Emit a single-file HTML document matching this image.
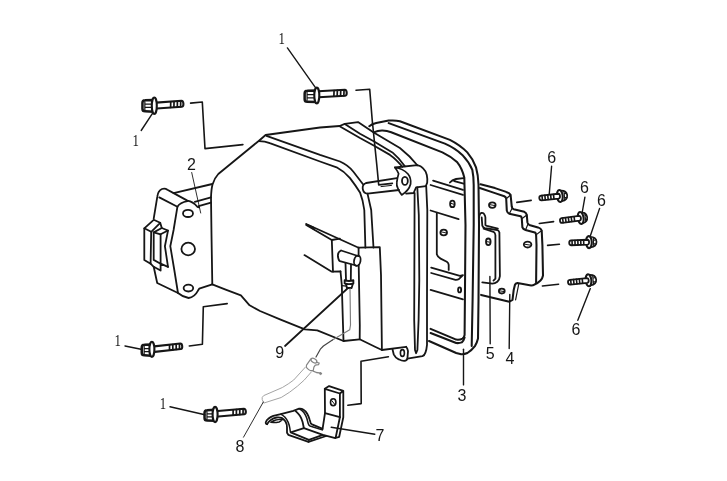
<!DOCTYPE html>
<html><head><meta charset="utf-8"><title>diagram</title>
<style>
html,body{margin:0;padding:0;background:#fff;}
body{width:727px;height:481px;overflow:hidden;font-family:"Liberation Sans",sans-serif;}
svg{display:block;}
</style></head><body>
<svg width="727" height="481" viewBox="0 0 727 481" stroke-linecap="round" stroke-linejoin="round" style="filter:grayscale(1) blur(0.45px)">
<rect x="0" y="0" width="727" height="481" fill="#ffffff"/>
<path d="M212.3,284.3 L211.5,235 L211,197.4 Q211.3,189 212.5,184.5 Q214.5,178 218.3,174 L259,140.7 L265.6,135 L320,127.5 L339.6,126 L344.8,123.8 L358,122.1 L373.7,132.4 L399.9,148 Q410,156 417.3,165.2" stroke="#161616" stroke-width="1.8" fill="none" />
<path d="M344.8,124 L360,133.7 L373.7,141.2 L392.4,152.4 Q399,158 404.9,166.2" stroke="#161616" stroke-width="1.8" fill="none" />
<path d="M339.6,126.2 L360,138 L373.7,145.5 L390,154.9 Q396,159 402.4,166.8" stroke="#161616" stroke-width="1.8" fill="none" />
<path d="M266.5,135.8 L320,154.9 L340,161.5 Q348,165 353.2,171.5 L363,184.3" stroke="#161616" stroke-width="1.8" fill="none" />
<path d="M367.5,193.6 L371.2,210 L371.8,220 L373.5,247.5" stroke="#161616" stroke-width="1.8" fill="none" />
<path d="M259,141.2 Q265,141.3 269.8,143.2 L320,161.5 L336.6,167.3 Q344.5,171.5 350,178.1 Q356,186 360,192.4 Q363,200 364.3,210 L365.4,247.7" stroke="#161616" stroke-width="1.8" fill="none" />
<path d="M212.3,284.3 L225,289.3 L240.9,295.4 L249.6,305.3 L260,311 L280,319.3 L304.9,329.3 L317.3,330.3 L343.5,341 L359.7,339.3 L375,346.8 L381.9,350 L406.2,346.8" stroke="#161616" stroke-width="1.8" fill="none" />
<path d="M340.5,271.5 L341.8,285 L343,325 L343.5,341" stroke="#161616" stroke-width="1.8" fill="none" />
<path d="M358.6,247.7 L358.6,256 M358.7,265 L359.8,325 L359.7,339.3" stroke="#161616" stroke-width="1.8" fill="none" />
<path d="M358.6,247.7 L379.8,247.2 L381,275 L381.6,325 L381.9,350" stroke="#161616" stroke-width="1.8" fill="none" />
<path d="M306.2,224 L358.6,247.7" stroke="#161616" stroke-width="1.8" fill="none" />
<path d="M306.2,225 L331.8,240 L339.9,238.7" stroke="#161616" stroke-width="1.8" fill="none" />
<path d="M306.2,224 L314,227.3 L314.5,229.8 Z" stroke="#161616" stroke-width="0.8" fill="#161616" />
<path d="M331.8,240 L333,271.7" stroke="#161616" stroke-width="1.8" fill="none" />
<path d="M304.4,255.1 L331.8,271.7 L340.5,271.5" stroke="#161616" stroke-width="1.8" fill="none" />
<path d="M341.1,250.5 L358,256 M339.9,261.1 L356.1,265.5 M341.1,250.5 Q337.3,252 338,257 Q338.6,260.6 339.9,261.1" stroke="#161616" stroke-width="1.8" fill="none" />
<ellipse cx="357.3" cy="260.7" rx="3.2" ry="5.2" stroke="#161616" stroke-width="1.8" fill="none" transform="rotate(12 357.3 260.7)"/>
<path d="M345.5,263 L346,280 M351,264.5 L350.8,280" stroke="#161616" stroke-width="1.8" fill="none" />
<path d="M344.6,280.2 Q349,281.8 353.4,280.2 L353.4,283.4 Q349,285 344.6,283.4 Z" stroke="#161616" stroke-width="1.8" fill="none" />
<path d="M346,284 L346.9,288 L351.6,288 L352.8,284" stroke="#161616" stroke-width="1.8" fill="none" />
<path d="M341.8,285.6 L346.7,286.2" stroke="#161616" stroke-width="1.2" fill="none" />
<path d="M350,288.7 L350.5,325 L349.7,329.8 L332.4,340" stroke="#7c7c7c" stroke-width="1.15" fill="none" />
<path d="M332.4,340 L323.4,346 L320.6,348.8 L316,357" stroke="#444" stroke-width="1.2" fill="none" />
<path d="M366.2,183 L396.8,178.2 M367.5,193.6 L399,190 M366.2,183 Q362.2,184.5 362.7,188.6 Q363.3,193.4 367.5,193.6" stroke="#161616" stroke-width="1.8" fill="none" />
<path d="M394.9,167.5 Q403,168.5 408,174 Q411.3,178 410.6,184 Q409,190.5 401.7,194.9 Q398.8,191.5 398,188.6 Q396.3,185.5 396.8,182.4 Q397.3,178 398.6,173.7 Q397,170 394.9,167.5 Z" stroke="#161616" stroke-width="1.7" fill="none" />
<ellipse cx="404.9" cy="180.9" rx="2.9" ry="4.0" stroke="#161616" stroke-width="1.8" fill="none"/>
<path d="M394.9,167.5 L417.3,165.2 Q421,166 422.9,168.1 Q426,171 426.8,175 Q427.6,179 427.2,182.6 L426,185.8" stroke="#161616" stroke-width="1.8" fill="none" />
<path d="M406.1,193.6 L413.6,193 L416.1,187.4 L426,186.2" stroke="#161616" stroke-width="1.8" fill="none" />
<path d="M414.6,193 L414.2,320 L415,350 L416.1,353.2 L417.4,350 L418.6,320 L419.3,280 L418.8,215 L417.3,187.4" stroke="#161616" stroke-width="1.8" fill="none" />
<path d="M426.2,186.2 L427.3,210 L427,300 L427,344.9 Q426.5,350 425.5,352.4 Q424.5,355.5 422.4,356.2 L407.4,358.6" stroke="#161616" stroke-width="1.8" fill="none" />
<path d="M392.5,349.3 L393.7,354.3 Q395.5,358 398.7,359.3 Q402,361 404.3,360.9 Q407,360.5 407.4,358.6 L408,351.2 Q407.5,348 406.2,346.8" stroke="#161616" stroke-width="1.8" fill="none" />
<ellipse cx="402.4" cy="353" rx="2.0" ry="3.4" stroke="#161616" stroke-width="1.6" fill="none"/>
<path d="M173.6,193.1 L212.3,184" stroke="#161616" stroke-width="1.8" fill="none" />
<path d="M194.8,201.8 L211,197.4 M198.6,206.2 L211,202.7" stroke="#161616" stroke-width="1.8" fill="none" />
<path d="M153.7,218.6 L157.4,196.2 Q158,190.8 162,189 Q165,188 167.4,189.7 L173.6,193.1 L187.4,200.6 Q193,201.5 197.3,206.8 L199.2,207.4" stroke="#161616" stroke-width="1.8" fill="none" />
<path d="M159.3,197.4 L177.4,206.8 Q180,202.5 187.4,201.2" stroke="#161616" stroke-width="1.8" fill="none" />
<path d="M177.4,206.8 L173.6,230 L170.3,246.2 L174.3,270 L178,293" stroke="#161616" stroke-width="1.8" fill="none" />
<path d="M168,230.6 L164.9,246.2 L168,266.8" stroke="#161616" stroke-width="1.8" fill="none" />
<ellipse cx="188" cy="213.4" rx="5.0" ry="3.6" stroke="#161616" stroke-width="1.8" fill="none"/>
<ellipse cx="188.2" cy="249" rx="6.8" ry="6.3" stroke="#161616" stroke-width="1.8" fill="none"/>
<ellipse cx="188.4" cy="288.1" rx="4.8" ry="3.4" stroke="#161616" stroke-width="1.8" fill="none"/>
<path d="M153.7,266.8 L157.2,283 L178,293 Q182.4,296.8 188.6,298 Q194.5,297.2 198,290.6 L199.2,288.7 L212.3,284.3" stroke="#161616" stroke-width="1.8" fill="none" />
<path d="M144.3,228.3 L153.7,219.8 L160.2,222.8 L151.2,231.8 Z" stroke="#161616" stroke-width="1.8" fill="none" />
<path d="M144.3,228.3 L144.3,259.9 L150.6,263.7 L151.2,231.8" stroke="#161616" stroke-width="1.8" fill="none" />
<path d="M153.7,232.4 L161.8,228 L168,230.5 L160.6,234.3 Z" stroke="#161616" stroke-width="1.8" fill="none" />
<path d="M153.7,232.4 L153.7,259.9 L160.6,263.7 L160.6,234.3" stroke="#161616" stroke-width="1.8" fill="none" />
<path d="M160.2,222.8 L161.8,228" stroke="#161616" stroke-width="1.8" fill="none" />
<path d="M150.6,263.7 L153.7,266.8 L160.6,270.5 L160.6,263.7 L168,266.8" stroke="#161616" stroke-width="1.8" fill="none" />
<path d="M369.3,126.2 Q372,124 376.2,123.1 L388.7,120.6 Q395,120 399.9,121.2 L449.9,139.9 Q460,145 467.3,152.4 Q473,159 476,167.3 Q478.2,175 478.5,184.8 L479,225 L478.5,300 L478,338.6 Q477,343 474.9,346.1 Q472,350 467.4,353 Q464,354.5 461.2,354.2 L456.2,353 L429,341" stroke="#161616" stroke-width="2.05" fill="none" />
<path d="M388.7,123.1 L444.9,143.6 Q455,148 462.3,154.9 Q469,162 472.3,169.8 Q473.6,176 473.7,185 L473.7,225 L472.6,300 L471.7,346.1" stroke="#161616" stroke-width="2.05" fill="none" />
<path d="M373.7,132.4 Q378,130.5 382.4,130.6 Q387,130.8 391.2,132.2 L442.4,152.4 Q451,156.5 457.3,162.3 Q462,168 464.3,177.5 L465.5,225 L464.9,300 L464.6,334.9 Q464,337.5 462.4,338.6 Q460,340 456.2,339.6 L430.6,328.9" stroke="#161616" stroke-width="2.05" fill="none" />
<path d="M430.6,333 L456.2,343 Q459,343.4 461.8,342.4 Q463.6,341 464.6,337.4" stroke="#161616" stroke-width="2.05" fill="none" />
<path d="M433.1,180.6 L463,189.9 M430.6,185 L463,194.9" stroke="#161616" stroke-width="1.8" fill="none" />
<path d="M449.9,182.5 Q452,179.8 456,179 L463.6,178.1 M454.3,181.2 L463.6,183.7" stroke="#161616" stroke-width="1.8" fill="none" />
<ellipse cx="452.4" cy="203.9" rx="2.3" ry="3.3" stroke="#161616" stroke-width="1.8" fill="none"/>
<path d="M450.6,203.2 L454.2,204.4" stroke="#161616" stroke-width="1" fill="none" />
<path d="M430.6,210.5 L458.6,219.2" stroke="#161616" stroke-width="1.8" fill="none" />
<path d="M436.8,213 L436.8,254.3 Q437.5,257 440.6,258.6 L446.8,261.8 Q448.6,263 448.7,264.9 L448.7,269.9" stroke="#161616" stroke-width="1.8" fill="none" />
<ellipse cx="443.7" cy="232.5" rx="3.3" ry="2.9" stroke="#161616" stroke-width="1.8" fill="none"/>
<path d="M441,231.8 L446.4,233" stroke="#161616" stroke-width="1" fill="none" />
<path d="M431.2,267.6 L459.9,275.8 L463,275.2 M431.2,273 L455.5,279.9 Q457.5,280 458.6,279.3 L463,275.2" stroke="#161616" stroke-width="1.8" fill="none" />
<path d="M430.6,289.9 L463,299.3" stroke="#161616" stroke-width="1.8" fill="none" />
<ellipse cx="459.6" cy="289.9" rx="1.5" ry="2.5" stroke="#161616" stroke-width="1.9" fill="none"/>
<path d="M479,217.4 Q479.8,213.5 481.1,213 Q483.5,212.5 484.2,214.2 Q485.4,216 485.4,217.4 L485.4,225 Q486,226 487.9,226.2 L497.9,228.7" stroke="#161616" stroke-width="1.8" fill="none" />
<path d="M481.7,217.5 L482.3,225.6 Q483,227.6 484.8,228.1 L497.3,230 Q499,230.7 499.4,232.5 L499.9,276.2 Q499.5,280 497.3,281.8 Q495,283.6 492.3,283.7 L482.3,282.4" stroke="#161616" stroke-width="1.8" fill="none" />
<path d="M483.6,228.7 L493.5,231.8 Q495.2,233 495.4,235 L495.4,278.7 L493.5,280.6" stroke="#161616" stroke-width="1.8" fill="none" />
<ellipse cx="488.3" cy="241.8" rx="2.3" ry="3.3" stroke="#161616" stroke-width="1.8" fill="none"/>
<path d="M486.6,241.6 L490,242.2" stroke="#161616" stroke-width="1" fill="none" />
<path d="M480.5,184.3 L495,188.1 L506.2,191.9 Q509.8,193 510.6,195 L511.8,206.8 Q512.2,208.8 513.7,209.3 L524.3,211.8 Q526.3,212.8 526.8,214.9 L527.4,222.4 Q527.8,224.2 529.3,224.9 L538,227.4 Q541,228.4 541.7,230.5 L542.4,245 L543,275.5 Q542.5,278.5 540.5,280.5 Q538,283 534.9,284.3 Q533,285.5 531.2,285.5 L517.4,283 Q515.5,283.3 514.9,284.9 L513.7,289.9 L512.5,299.9 L509.3,301.7 L481.1,294.9" stroke="#161616" stroke-width="2.05" fill="none" />
<path d="M479.8,188 L495,193.1 L504.3,196.2 Q506,197 506.2,198.7 L506.8,210.6 Q507.3,213 509.3,213.7 L520.6,216.2 Q521.7,217 521.8,218.7 L522.4,227.4 Q523,229.2 525.5,229.9 L534.9,232.4 Q536,233.2 536.1,234.9 L536.5,245 L536.1,282.4" stroke="#161616" stroke-width="2.05" fill="none" />
<path d="M506.2,198.7 L510.6,195 M509.3,213.7 L512,208.5 M521.8,218.7 L526.8,214.9 M525.5,229.9 L528,224 M536.1,234.9 L541.7,230.5" stroke="#161616" stroke-width="1.2" fill="none" />
<path d="M518.7,284.3 L515.6,299.9" stroke="#161616" stroke-width="1.2" fill="none" />
<ellipse cx="492.3" cy="205.1" rx="3.3" ry="2.8" stroke="#161616" stroke-width="1.8" fill="none"/>
<path d="M489.8,204.6 L494.8,205.6" stroke="#161616" stroke-width="1" fill="none" />
<ellipse cx="527.6" cy="244.6" rx="3.8" ry="2.9" stroke="#161616" stroke-width="1.8" fill="none"/>
<path d="M524.6,244.2 L530.6,245.2" stroke="#161616" stroke-width="1" fill="none" />
<ellipse cx="501.8" cy="291.1" rx="2.9" ry="2.4" stroke="#161616" stroke-width="1.8" fill="none"/>
<path d="M499.6,290.8 L504,291.6" stroke="#161616" stroke-width="1" fill="none" />
<path d="M324.8,388.8 L339.9,393.5 L339.9,417.2 L325,413.1 Z" stroke="#161616" stroke-width="1.8" fill="none" />
<path d="M324.8,388.8 L329.1,386.1 L343.3,390.8 L339.9,393.5 M343.3,390.8 L343.3,417.2 L339.2,436.8 L335.6,438 L339.9,417.2" stroke="#161616" stroke-width="1.8" fill="none" />
<ellipse cx="333.2" cy="402.3" rx="2.7" ry="3.5" stroke="#161616" stroke-width="1.6" fill="none"/>
<path d="M331.8,400.6 L334.6,404.2" stroke="#161616" stroke-width="1" fill="none" />
<path d="M325,413.1 L322.5,429.4" stroke="#161616" stroke-width="1.8" fill="none" />
<path d="M267.1,424.2 Q265.4,423.8 265.8,422.2 Q266.5,420 268.3,418.7 Q270.5,416.8 273.3,415.8 L280.8,414.1 L293.3,410.8 L299.1,408.7 Q301.5,408.4 303.2,409.6 Q305.8,411.3 307.2,413.7 Q308.8,416.5 309.6,419.5 L310.6,422.8 Q311,423.8 312,424.3 L322.1,428.6" stroke="#161616" stroke-width="1.8" fill="none" />
<path d="M299.1,408.7 Q302,410.3 303.9,412.5 Q305.6,415 306.8,418.3 L308.2,423.5 Q308.6,425.3 310,426 L322.1,429.9 L322.5,428.6" stroke="#161616" stroke-width="1.5" fill="none" />
<path d="M295.7,411.2 Q298,413.3 299.9,415.8 Q301.5,418.3 302.6,422 L303.9,428.2" stroke="#161616" stroke-width="1.8" fill="none" />
<path d="M267.1,424.2 Q268.5,421.5 270.8,420 Q273.5,418 276.6,417.5 Q279.5,417.2 281.6,417.9 Q284,419.2 285.5,421.5 Q287,424 287,427.4 L287,432.7 L288.3,434.8 L308.5,441.8 L326.2,436" stroke="#161616" stroke-width="1.8" fill="none" />
<path d="M280.8,414.1 Q283,415.3 284.8,417 Q287,419.5 288.2,422.4 Q289.3,425 289.8,428 L290.3,431.5 L290.7,432.3" stroke="#161616" stroke-width="1.5" fill="none" />
<path d="M270.8,422.4 Q273,420.8 275.8,420 Q279,419.2 282.4,419.5 Q281,421.2 279.1,422 Q275,422.8 270.8,422.4 Z" stroke="#161616" stroke-width="1.4" fill="none" />
<path d="M290.7,432.3 L303.9,428.2 L322.9,434.8 L308.9,439.8 Z M308.9,439.8 L308.5,441.8 M322.9,434.8 L335.3,438.1" stroke="#161616" stroke-width="1.8" fill="none" />
<path d="M305.3,367.2 L293.7,380 Q288.5,384 282.4,387.5 L263.7,395.6 Q261.5,397.2 262.2,399.5 L263.7,403.1 L281.2,397.5 Q290,392.5 297.4,386.2 L304.3,380 L311.3,372" stroke="#a4a4a4" stroke-width="1.0" fill="none" />
<ellipse cx="313.9" cy="360.6" rx="3.2" ry="1.9" stroke="#858585" stroke-width="1.3" fill="none" transform="rotate(32 313.9 360.6)"/>
<path d="M310.7,359.1 L306.5,365.1 Q306,366.8 306.8,367.9 Q308.5,370 310.7,370.7 L313.2,370.7 L313.9,367.2 L315.3,365.1 L318.5,364.7 L319.2,363 L316.7,362.3" stroke="#858585" stroke-width="1.2" fill="none" />
<path d="M313.2,371.1 L316.4,372.5 L320.6,373.2" stroke="#858585" stroke-width="1.3" fill="none" />
<ellipse cx="320.6" cy="373.6" rx="1.0" ry="1.0" stroke="#858585" stroke-width="1" fill="#858585"/>
<path d="M190.6,103.1 L202.3,102 L205,148.6 L242.9,144.6" stroke="#161616" stroke-width="1.6" fill="none" />
<path d="M356,90.3 L369.7,89.3 L372.2,120 L376.8,165 L378.7,184.9 L392.4,183.4" stroke="#161616" stroke-width="1.6" fill="none" />
<path d="M381,186.6 L391.5,185.4" stroke="#161616" stroke-width="1.0" fill="none" />
<path d="M227.2,303.6 L203.3,306.8 L202.4,344.2 L189.3,346" stroke="#161616" stroke-width="1.6" fill="none" />
<path d="M388.4,356.8 L361,361.3 L361.2,403.6 L347.9,405.3" stroke="#161616" stroke-width="1.6" fill="none" />
<path d="M516.8,202.4 L531.2,200.4" stroke="#161616" stroke-width="1.6" fill="none" />
<path d="M539.3,223.5 L553.6,221.6" stroke="#161616" stroke-width="1.6" fill="none" />
<path d="M547.6,245.4 L559.4,244.3" stroke="#161616" stroke-width="1.6" fill="none" />
<path d="M542.4,286 L558.6,284.2" stroke="#161616" stroke-width="1.6" fill="none" />
<path d="M152.5,113.3 L141.2,130.5" stroke="#161616" stroke-width="1.4" fill="none" />
<path d="M287.4,47.9 L315.3,87.3" stroke="#161616" stroke-width="1.4" fill="none" />
<path d="M125,346 L141,349.2" stroke="#161616" stroke-width="1.4" fill="none" />
<path d="M170,406.8 L204.9,414.8" stroke="#161616" stroke-width="1.4" fill="none" />
<path d="M191.7,172.5 L200.7,213" stroke="#161616" stroke-width="0.9" fill="none" />
<path d="M348,288 L285,346" stroke="#161616" stroke-width="1.7" fill="none" />
<path d="M263.3,402 L243.5,437.2" stroke="#161616" stroke-width="0.9" fill="none" />
<path d="M331.2,427.3 L374.8,434.2" stroke="#161616" stroke-width="1.4" fill="none" />
<path d="M463.5,349.3 L463.5,384.9" stroke="#161616" stroke-width="1.4" fill="none" />
<path d="M489.9,276.5 L490.2,343.8" stroke="#161616" stroke-width="1.4" fill="none" />
<path d="M509.8,294.5 L509.2,348.6" stroke="#161616" stroke-width="1.4" fill="none" />
<path d="M551.6,166.2 L549.2,194.5" stroke="#161616" stroke-width="1.4" fill="none" />
<path d="M584.9,197.1 L582.3,212" stroke="#161616" stroke-width="1.4" fill="none" />
<path d="M599.6,208.4 L590.3,236" stroke="#161616" stroke-width="1.4" fill="none" />
<path d="M590.3,288.6 L577.8,320.3" stroke="#161616" stroke-width="1.4" fill="none" />
<path d="M145.04999999999998,100.25 Q142.45,100.25 142.45,102.85 L142.45,108.75000000000001 Q142.45,111.35000000000001 145.04999999999998,111.35000000000001 L153.70000000000002,111.65 L153.70000000000002,99.95 Z" stroke="#161616" stroke-width="2.5" fill="none"/><path d="M144.85,101.65 L144.85,109.95 M144.85,104.15 L152.50000000000003,104.15 M144.85,107.45 L152.50000000000003,107.45 M152.10000000000002,100.85 L152.10000000000002,110.75000000000001" stroke="#161616" stroke-width="1.2" fill="none"/><g transform="translate(157.4 105.5) rotate(-4.04)"><path d="M-1,-3.0 L24.36701689100966,-3.0 Q26.06701689100966,-2.9 26.06701689100966,0 Q26.06701689100966,2.9 24.36701689100966,3.0 L-1,3.0" stroke="#161616" stroke-width="2.1" fill="none"/><path d="M23.56701689100966,-2.8 L23.06701689100966,2.8 M20.26701689100966,-2.8 L19.76701689100966,2.8 M16.867016891009662,-2.8 L16.367016891009662,2.8 M13.56701689100966,-2.8 L13.06701689100966,2.8" stroke="#161616" stroke-width="1.7" fill="none"/></g><ellipse cx="154.3" cy="105.7" rx="2.5" ry="8.200000000000001" stroke="#161616" stroke-width="2.1" fill="#fff"/>
<path d="M307.25,90.85 Q304.65,90.85 304.65,93.44999999999999 L304.65,99.15 Q304.65,101.75 307.25,101.75 L316.2,102.05 L316.2,90.55 Z" stroke="#161616" stroke-width="2.5" fill="none"/><path d="M307.04999999999995,92.25 L307.04999999999995,100.35 M307.04999999999995,94.68333333333334 L315.0,94.68333333333334 M307.04999999999995,97.91666666666666 L315.0,97.91666666666666 M314.59999999999997,91.44999999999999 L314.59999999999997,101.15" stroke="#161616" stroke-width="1.2" fill="none"/><g transform="translate(319.5 94.2) rotate(-3.26)"><path d="M-1,-3.05 L25.545514740363185,-3.05 Q27.245514740363188,-2.9499999999999997 27.245514740363188,0 Q27.245514740363188,2.9499999999999997 25.545514740363185,3.05 L-1,3.05" stroke="#161616" stroke-width="2.1" fill="none"/><path d="M24.745514740363188,-2.8499999999999996 L24.245514740363188,2.8499999999999996 M21.445514740363187,-2.8499999999999996 L20.945514740363187,2.8499999999999996 M18.04551474036319,-2.8499999999999996 L17.54551474036319,2.8499999999999996 M14.745514740363186,-2.8499999999999996 L14.245514740363186,2.8499999999999996" stroke="#161616" stroke-width="1.7" fill="none"/></g><ellipse cx="316.8" cy="95.5" rx="2.5" ry="7.9" stroke="#161616" stroke-width="2.1" fill="#fff"/>
<path d="M144.35,344.85 Q141.75,344.85 141.75,347.45000000000005 L141.75,352.74999999999994 Q141.75,355.34999999999997 144.35,355.34999999999997 L151.3,355.65 L151.3,344.55 Z" stroke="#161616" stroke-width="2.5" fill="none"/><path d="M144.15,346.25 L144.15,353.95 M144.15,348.55 L150.10000000000002,348.55 M144.15,351.65 L150.10000000000002,351.65 M149.70000000000002,345.45000000000005 L149.70000000000002,354.74999999999994" stroke="#161616" stroke-width="1.2" fill="none"/><g transform="translate(155.5 349.0) rotate(-6.20)"><path d="M-1,-2.75 L25.162564723022253,-2.75 Q26.862564723022256,-2.65 26.862564723022256,0 Q26.862564723022256,2.65 25.162564723022253,2.75 L-1,2.75" stroke="#161616" stroke-width="2.1" fill="none"/><path d="M24.362564723022256,-2.55 L23.862564723022256,2.55 M21.062564723022255,-2.55 L20.562564723022255,2.55 M17.662564723022257,-2.55 L17.162564723022257,2.55 M14.362564723022254,-2.55 L13.862564723022254,2.55" stroke="#161616" stroke-width="1.7" fill="none"/></g><ellipse cx="151.9" cy="349.3" rx="2.5" ry="7.6" stroke="#161616" stroke-width="2.1" fill="#fff"/>
<path d="M207.15,410.15000000000003 Q204.55,410.15000000000003 204.55,412.75000000000006 L204.55,417.95 Q204.55,420.55 207.15,420.55 L214.5,420.85 L214.5,409.85 Z" stroke="#161616" stroke-width="2.5" fill="none"/><path d="M206.95000000000002,411.55 L206.95000000000002,419.15000000000003 M206.95000000000002,413.81666666666666 L213.3,413.81666666666666 M206.95000000000002,416.8833333333334 L213.3,416.8833333333334 M212.9,410.75000000000006 L212.9,419.95" stroke="#161616" stroke-width="1.2" fill="none"/><g transform="translate(219.1 413.7) rotate(-5.18)"><path d="M-1,-2.75 L25.112993342473843,-2.75 Q26.812993342473845,-2.65 26.812993342473845,0 Q26.812993342473845,2.65 25.112993342473843,2.75 L-1,2.75" stroke="#161616" stroke-width="2.1" fill="none"/><path d="M24.312993342473845,-2.55 L23.812993342473845,2.55 M21.012993342473845,-2.55 L20.512993342473845,2.55 M17.612993342473843,-2.55 L17.112993342473843,2.55 M14.312993342473844,-2.55 L13.812993342473844,2.55" stroke="#161616" stroke-width="1.7" fill="none"/></g><ellipse cx="215.1" cy="414.5" rx="2.5" ry="7.6" stroke="#161616" stroke-width="2.1" fill="#fff"/>
<g transform="translate(559.8 196.0) rotate(-6)"><path d="M1.5,-5.3 Q7.250000000000001,-4.9 7.450000000000001,0 Q7.250000000000001,4.9 1.5,5.3" stroke="#161616" stroke-width="1.7" fill="#fff"/><path d="M4.6,-4.3 L4.6,4.3 M4.6,-1.5 L6.850000000000001,-2.1 M4.6,1.7 L6.850000000000001,2.3" stroke="#161616" stroke-width="1.1" fill="none"/><ellipse cx="0" cy="0" rx="2.9" ry="6.0" stroke="#161616" stroke-width="2.1" fill="#fff"/><path d="M-1.4,-2.4 L-18.6,-2.4 Q-20.6,-2.3 -20.6,0 Q-20.6,2.3 -18.6,2.4 L-1.4,2.4 Q0.2,2.2 0.2,0 Q0.2,-2.2 -1.4,-2.4 Z" stroke="#161616" stroke-width="1.8" fill="#fff"/><path d="M-17.700000000000003,-2.2 L-17.700000000000003,2.2 M-14.8,-2.2 L-14.8,2.2 M-11.900000000000002,-2.2 L-11.900000000000002,2.2 M-9.000000000000002,-2.2 L-9.000000000000002,2.2 M-6.100000000000001,-2.2 L-6.100000000000001,2.2" stroke="#161616" stroke-width="1.6" fill="none"/></g>
<g transform="translate(580.7 218.0) rotate(-7.8)"><path d="M1.5,-5.3 Q6.3500000000000005,-4.9 6.550000000000001,0 Q6.3500000000000005,4.9 1.5,5.3" stroke="#161616" stroke-width="1.7" fill="#fff"/><path d="M4.6,-4.3 L4.6,4.3 M4.6,-1.5 L5.950000000000001,-2.1 M4.6,1.7 L5.950000000000001,2.3" stroke="#161616" stroke-width="1.1" fill="none"/><ellipse cx="0" cy="0" rx="2.9" ry="6.0" stroke="#161616" stroke-width="2.1" fill="#fff"/><path d="M-1.4,-2.4 L-18.900000000000002,-2.4 Q-20.900000000000002,-2.3 -20.900000000000002,0 Q-20.900000000000002,2.3 -18.900000000000002,2.4 L-1.4,2.4 Q0.2,2.2 0.2,0 Q0.2,-2.2 -1.4,-2.4 Z" stroke="#161616" stroke-width="1.8" fill="#fff"/><path d="M-18.000000000000004,-2.2 L-18.000000000000004,2.2 M-15.100000000000001,-2.2 L-15.100000000000001,2.2 M-12.200000000000003,-2.2 L-12.200000000000003,2.2 M-9.300000000000002,-2.2 L-9.300000000000002,2.2 M-6.400000000000002,-2.2 L-6.400000000000002,2.2" stroke="#161616" stroke-width="1.6" fill="none"/></g>
<g transform="translate(588.9 242.1) rotate(-2.4)"><path d="M1.5,-5.3 Q7.45,-4.9 7.65,0 Q7.45,4.9 1.5,5.3" stroke="#161616" stroke-width="1.7" fill="#fff"/><path d="M4.6,-4.3 L4.6,4.3 M4.6,-1.5 L7.050000000000001,-2.1 M4.6,1.7 L7.050000000000001,2.3" stroke="#161616" stroke-width="1.1" fill="none"/><ellipse cx="0" cy="0" rx="2.9" ry="6.0" stroke="#161616" stroke-width="2.1" fill="#fff"/><path d="M-1.4,-2.4 L-17.700000000000003,-2.4 Q-19.700000000000003,-2.3 -19.700000000000003,0 Q-19.700000000000003,2.3 -17.700000000000003,2.4 L-1.4,2.4 Q0.2,2.2 0.2,0 Q0.2,-2.2 -1.4,-2.4 Z" stroke="#161616" stroke-width="1.8" fill="#fff"/><path d="M-16.800000000000004,-2.2 L-16.800000000000004,2.2 M-13.900000000000002,-2.2 L-13.900000000000002,2.2 M-11.000000000000004,-2.2 L-11.000000000000004,2.2 M-8.100000000000003,-2.2 L-8.100000000000003,2.2 M-5.200000000000003,-2.2 L-5.200000000000003,2.2" stroke="#161616" stroke-width="1.6" fill="none"/></g>
<g transform="translate(588.5 280.3) rotate(-5.9)"><path d="M1.5,-5.3 Q7.55,-4.9 7.75,0 Q7.55,4.9 1.5,5.3" stroke="#161616" stroke-width="1.7" fill="#fff"/><path d="M4.6,-4.3 L4.6,4.3 M4.6,-1.5 L7.15,-2.1 M4.6,1.7 L7.15,2.3" stroke="#161616" stroke-width="1.1" fill="none"/><ellipse cx="0" cy="0" rx="2.9" ry="6.0" stroke="#161616" stroke-width="2.1" fill="#fff"/><path d="M-1.4,-2.4 L-18.6,-2.4 Q-20.6,-2.3 -20.6,0 Q-20.6,2.3 -18.6,2.4 L-1.4,2.4 Q0.2,2.2 0.2,0 Q0.2,-2.2 -1.4,-2.4 Z" stroke="#161616" stroke-width="1.8" fill="#fff"/><path d="M-17.700000000000003,-2.2 L-17.700000000000003,2.2 M-14.8,-2.2 L-14.8,2.2 M-11.900000000000002,-2.2 L-11.900000000000002,2.2 M-9.000000000000002,-2.2 L-9.000000000000002,2.2 M-6.100000000000001,-2.2 L-6.100000000000001,2.2" stroke="#161616" stroke-width="1.6" fill="none"/></g>
<text transform="translate(132.4 146.0) scale(0.8 1)" font-family="'Liberation Serif', serif" font-size="16" fill="#161616">1</text>
<text transform="translate(278.4 44.4) scale(0.8 1)" font-family="'Liberation Serif', serif" font-size="16" fill="#161616">1</text>
<text transform="translate(114.4 346.0) scale(0.8 1)" font-family="'Liberation Serif', serif" font-size="16" fill="#161616">1</text>
<text transform="translate(159.7 409.3) scale(0.8 1)" font-family="'Liberation Serif', serif" font-size="16" fill="#161616">1</text>
<text x="187.0" y="170.0" font-family="'Liberation Sans', sans-serif" font-size="16" fill="#161616">2</text>
<text x="457.6" y="401.0" font-family="'Liberation Sans', sans-serif" font-size="16" fill="#161616">3</text>
<text x="505.6" y="364.3" font-family="'Liberation Sans', sans-serif" font-size="16" fill="#161616">4</text>
<text x="485.8" y="358.8" font-family="'Liberation Sans', sans-serif" font-size="16" fill="#161616">5</text>
<text x="547.2" y="163.3" font-family="'Liberation Sans', sans-serif" font-size="16" fill="#161616">6</text>
<text x="580.0" y="193.2" font-family="'Liberation Sans', sans-serif" font-size="16" fill="#161616">6</text>
<text x="596.9" y="206.2" font-family="'Liberation Sans', sans-serif" font-size="16" fill="#161616">6</text>
<text x="571.6" y="334.6" font-family="'Liberation Sans', sans-serif" font-size="16" fill="#161616">6</text>
<text x="375.5" y="441.0" font-family="'Liberation Sans', sans-serif" font-size="16" fill="#161616">7</text>
<text x="235.5" y="451.5" font-family="'Liberation Sans', sans-serif" font-size="16" fill="#161616">8</text>
<text x="275.2" y="357.5" font-family="'Liberation Sans', sans-serif" font-size="16" fill="#161616">9</text>
</svg>
</body></html>
